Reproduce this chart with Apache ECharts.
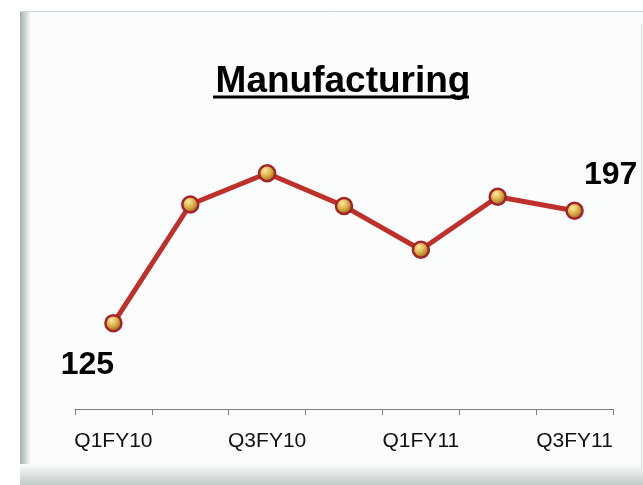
<!DOCTYPE html>
<html>
<head>
<meta charset="utf-8">
<script src="https://cdn.jsdelivr.net/npm/echarts@6/dist/echarts.min.js"></script>
<style>
  html, body { margin: 0; padding: 0; background: #fff; }
  #chart { width: 643px; height: 485px; }
</style>
</head>
<body>
<div id="chart"></div>
<script>
const categories = ['Q1FY10', 'Q2FY10', 'Q3FY10', 'Q4FY10', 'Q1FY11', 'Q2FY11', 'Q3FY11']
const values = [125, 201, 221, 200, 172, 206, 197]
const titleText = 'Manufacturing'

const chart = echarts.init(document.getElementById('chart'))

const sphere = new echarts.graphic.RadialGradient(0.4, 0.35, 0.65, [
  { offset: 0, color: '#fbeaa0' },
  { offset: 0.5, color: '#d9ae45' },
  { offset: 1, color: '#8a5a18' }
])

const lastIdx = values.length - 1

const option = {
  animation: false,
  title: {
    text: titleText,
    left: 338,
    textAlign: 'center',
    top: 58,
    textStyle: {
      fontFamily: 'Liberation Sans, Arial, sans-serif',
      fontWeight: 'bold',
      fontSize: 37,
      color: '#000'
    }
  },
  graphic: [
    {
      type: 'rect', z: -10, silent: true,
      shape: { x: 20, y: 11, width: 623, height: 474 },
      style: { fill: '#fbfdfd' }
    },
    {
      type: 'rect', z: -9, silent: true,
      shape: { x: 20, y: 11, width: 11, height: 470 },
      style: {
        fill: new echarts.graphic.LinearGradient(0, 0, 1, 0, [
          { offset: 0, color: '#a4afaf' },
          { offset: 1, color: '#fbfdfd' }
        ])
      }
    },
    {
      type: 'rect', z: -9, silent: true,
      shape: { x: 20, y: 464, width: 623, height: 21 },
      style: {
        fill: new echarts.graphic.LinearGradient(0, 0, 0, 1, [
          { offset: 0, color: '#fbfdfd' },
          { offset: 1, color: '#c2caca' }
        ])
      }
    },
    {
      type: 'line', z: -8, silent: true,
      shape: { x1: 20, y1: 11.5, x2: 643, y2: 11.5 },
      style: { stroke: '#cfd6d6', lineWidth: 1 }
    },
    {
      type: 'line', z: -8, silent: true,
      shape: { x1: 641.5, y1: 24, x2: 641.5, y2: 470 },
      style: { stroke: '#d5dcdc', lineWidth: 1 }
    },
    {
      type: 'line', z: 10, silent: true,
      shape: { x1: 213, y1: 97, x2: 469, y2: 97 },
      style: { stroke: '#000', lineWidth: 3 }
    }
  ],
  grid: {
    left: 75,
    right: 30,
    top: 128,
    bottom: 76
  },
  xAxis: {
    type: 'category',
    data: categories,
    boundaryGap: true,
    axisLine: {
      lineStyle: { color: '#7f7f7f', width: 1 }
    },
    axisTick: {
      show: true,
      interval: 0,
      length: 6,
      lineStyle: { color: '#7f7f7f' }
    },
    axisLabel: {
      interval: 1,
      margin: 22,
      color: '#111',
      fontSize: 21,
      fontFamily: 'Liberation Sans, Arial, sans-serif'
    }
  },
  yAxis: {
    type: 'value',
    min: 70,
    max: 250,
    show: false,
    splitLine: { show: false }
  },
  series: [
    {
      type: 'line',
      data: values.map((v, i) => {
        if (i === 0) {
          return {
            value: v,
            label: { show: true, position: 'bottom', offset: [-26, 12] }
          }
        }
        if (i === lastIdx) {
          return {
            value: v,
            label: { show: true, position: 'top', offset: [36, -5] }
          }
        }
        return v
      }),
      symbol: 'circle',
      symbolSize: 16,
      lineStyle: { color: '#c0302b', width: 5 },
      itemStyle: {
        color: sphere,
        borderColor: '#a52226',
        borderWidth: 2.5
      },
      label: {
        show: false,
        color: '#000',
        fontWeight: 'bold',
        fontSize: 32,
        fontFamily: 'Liberation Sans, Arial, sans-serif'
      }
    }
  ]
}

chart.setOption(option)

window.addEventListener('resize', () => {
  chart.resize()
})
</script>
</body>
</html>
